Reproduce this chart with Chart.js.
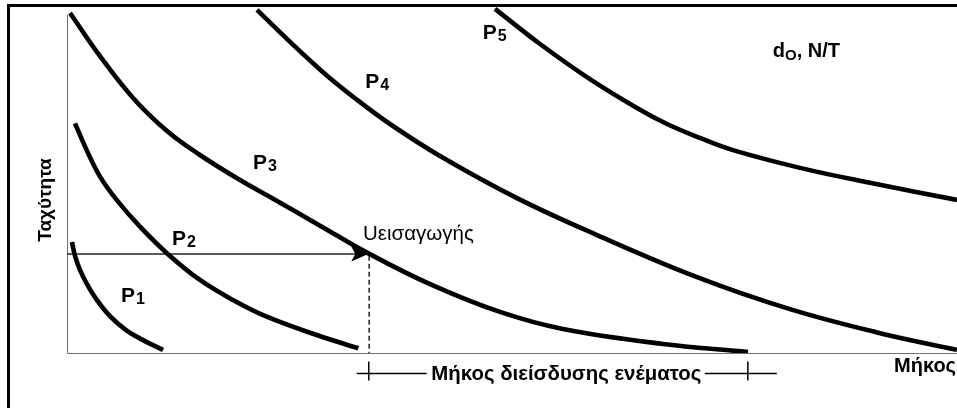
<!DOCTYPE html>
<html>
<head>
<meta charset="utf-8">
<script src="https://cdn.jsdelivr.net/npm/chart.js@4/dist/chart.umd.min.js"></script>
<style>
html,body{margin:0;padding:0;background:#fff;}
#wrap{width:957px;height:408px;position:relative;}
</style>
</head>
<body>
<div id="wrap"><canvas id="c" width="957" height="408"></canvas></div>
<script>
// Curves: x = length (0..100), y = velocity (0..100)
const p1X = [0.56, 0.90, 1.46, 2.25, 3.37, 4.83, 6.63, 8.54, 10.79];
const p1Y = [31.9, 27.9, 23.9, 19.8, 15.2, 10.6, 6.6, 3.7, 0.86];
const p2X = [0.90, 2.21, 3.71, 5.58, 8.20, 11.35, 14.94, 18.65, 22.44, 28.06, 32.73];
const p2Y = [66.0, 58.3, 50.7, 44.0, 36.3, 28.4, 20.98, 15.23, 10.43, 5.17, 1.35];
const p3X = [0.34, 3.71, 7.42, 11.24, 14.94, 19.44, 23.60, 28.43, 33.82, 40.79, 48.65, 55.73, 66.97, 76.52];
const p3Y = [97.7, 85.3, 73.3, 63.8, 56.9, 49.7, 43.7, 36.6, 28.7, 19.8, 11.8, 6.9, 2.6, 0.3];
const p4X = [21.35, 25.06, 28.76, 32.47, 36.29, 41.91, 50.56, 59.55, 70.79, 81.24, 91.35, 100];
const p4Y = [98.6, 89.4, 80.7, 72.99, 65.8, 56.6, 44.5, 33.9, 21.8, 12.6, 5.7, 0.9];
const p5X = [48.09, 53.15, 58.76, 64.04, 67.42, 71.12, 74.83, 82.36, 90.22, 100];
const p5Y = [98.9, 88.8, 78.7, 70.4, 65.8, 61.8, 58.3, 53.2, 48.9, 44.0];

// Inlet velocity arrow and penetration length
const inletVelocity = 28.45;
const inletLengthStart = 33.85;
const inletLengthEnd = 76.5;

// Text labels
const curveNames = ["P", "P", "P", "P", "P"];
const curveSubs = ["1", "2", "3", "4", "5"];
const curveLabelX = [6.07, 11.8, 20.9, 33.5, 46.7];
const curveLabelY = [14.66, 31.0, 52.9, 76.1, 90.2];
const yTitle = "Ταχύτητα";
const xTitle = "Μήκος";
const dimText = "Μήκος διείσδυσης ενέματος";
const inletText = "Uεισαγωγής";
const paramMain = "d";
const paramSub = "O";
const paramRest = ", N/T";

function pts(xs, ys){ return xs.map((x,i)=>({x:x, y:ys[i]})); }

const curveStyle = {borderColor:'#000', borderWidth:4.6, pointRadius:0, tension:0.4, fill:false};
const FONT = '"Liberation Sans", Arial, sans-serif';

const decor = {
  id:'decor',
  beforeDraw(chart){
    const ctx = chart.ctx, xs = chart.scales.x, ys = chart.scales.y;
    ctx.save();
    ctx.fillStyle = '#fff';
    ctx.fillRect(0,0,chart.width,chart.height);
    // frame
    ctx.strokeStyle = '#000'; ctx.lineWidth = 3;
    ctx.beginPath(); ctx.moveTo(8.5, 408); ctx.lineTo(8.5, 5.5); ctx.lineTo(957, 5.5); ctx.stroke();
    // axes
    ctx.strokeStyle = '#707070'; ctx.lineWidth = 1;
    const x0 = Math.round(xs.getPixelForValue(0)) + 0.5;
    const y0 = Math.round(ys.getPixelForValue(0)) + 0.5;
    ctx.beginPath();
    ctx.moveTo(x0, ys.getPixelForValue(97.1)); ctx.lineTo(x0, y0);
    ctx.lineTo(xs.getPixelForValue(100), y0);
    ctx.stroke();
    ctx.restore();
  },
  afterDatasetsDraw(chart){
    const ctx = chart.ctx, xs = chart.scales.x, ys = chart.scales.y;
    const X = v => xs.getPixelForValue(v), Y = v => ys.getPixelForValue(v);
    ctx.save();
    // arrowhead
    const tx = X(inletLengthStart), ty = Y(inletVelocity);
    ctx.fillStyle = '#000';
    ctx.beginPath();
    ctx.moveTo(tx, ty); ctx.lineTo(tx-17, ty-7.5); ctx.lineTo(tx-13, ty); ctx.lineTo(tx-17, ty+7.5); ctx.closePath();
    ctx.fill();
    // dimension line
    const dy = Y(-5.9);
    ctx.strokeStyle = '#000'; ctx.lineWidth = 1.5;
    const a = X(inletLengthStart)+0.5, b = X(inletLengthEnd);
    ctx.beginPath();
    ctx.moveTo(a-12, dy); ctx.lineTo(a+58, dy);
    ctx.moveTo(b-43, dy); ctx.lineTo(b+29, dy);
    ctx.moveTo(a, dy-12); ctx.lineTo(a, dy+7);
    ctx.moveTo(b, dy-12); ctx.lineTo(b, dy+7);
    ctx.stroke();
    ctx.fillStyle = '#000';
    ctx.textBaseline = 'alphabetic';
    ctx.font = 'bold 20.4px ' + FONT;
    ctx.textAlign = 'center';
    ctx.fillText(dimText, (a+b)/2 + 8, Y(-7.76));
    // axis titles
    ctx.font = 'bold 20px ' + FONT;
    ctx.textAlign = 'right';
    ctx.fillText(xTitle, 956, Y(-5.4));
    ctx.save();
    ctx.translate(51, 200);
    ctx.rotate(-Math.PI/2);
    ctx.textAlign = 'center';
    ctx.font = 'bold 19px ' + FONT;
    ctx.fillText(yTitle, 0, 0);
    ctx.restore();
    // curve labels
    ctx.textAlign = 'left';
    for (let i=0;i<curveNames.length;i++){
      const lx = X(curveLabelX[i]), ly = Y(curveLabelY[i]);
      ctx.font = 'bold 21px ' + FONT;
      ctx.fillText(curveNames[i], lx, ly);
      const w = ctx.measureText(curveNames[i]).width;
      ctx.font = 'bold 16px ' + FONT;
      ctx.fillText(curveSubs[i], lx + w + 1, ly + 2);
    }
    // parameter label
    let px = X(79.3), py = Y(85.1);
    ctx.font = 'bold 20px ' + FONT;
    ctx.fillText(paramMain, px, py);
    px += ctx.measureText(paramMain).width;
    ctx.font = 'bold 15px ' + FONT;
    ctx.fillText(paramSub, px, py + 3);
    px += ctx.measureText(paramSub).width;
    ctx.font = 'bold 20px ' + FONT;
    ctx.fillText(paramRest, px, py);
    // inlet label
    ctx.font = '20.5px ' + FONT;
    ctx.fillText(inletText, X(33.26), Y(32.5));
    ctx.restore();
  }
};

new Chart(document.getElementById('c'), {
  type: 'line',
  data: {
    datasets: [
      Object.assign({label:'P1', data: pts(p1X,p1Y)}, curveStyle),
      Object.assign({label:'P2', data: pts(p2X,p2Y)}, curveStyle),
      Object.assign({label:'P3', data: pts(p3X,p3Y)}, curveStyle),
      Object.assign({label:'P4', data: pts(p4X,p4Y)}, curveStyle),
      Object.assign({label:'P5', data: pts(p5X,p5Y)}, curveStyle),
      {label:'arrow', data:[{x:0,y:inletVelocity},{x:inletLengthStart-1.3,y:inletVelocity}], borderColor:'#222', borderWidth:1.5, pointRadius:0, fill:false},
      {label:'drop', data:[{x:inletLengthStart+0.1,y:inletVelocity-0.5},{x:inletLengthStart+0.1,y:0}], borderColor:'#222', borderWidth:1.5, borderDash:[5,3], pointRadius:0, fill:false}
    ]
  },
  options: {
    responsive: false,
    animation: false,
    layout: {padding: {left:67, right:0, top:5, bottom:55}},
    scales: {
      x: {type:'linear', min:0, max:100, display:false},
      y: {type:'linear', min:0, max:100, display:false}
    },
    plugins: {legend:{display:false}, tooltip:{enabled:false}},
    elements: {line:{borderCapStyle:'butt'}}
  },
  plugins: [decor]
});
</script>
</body>
</html>
